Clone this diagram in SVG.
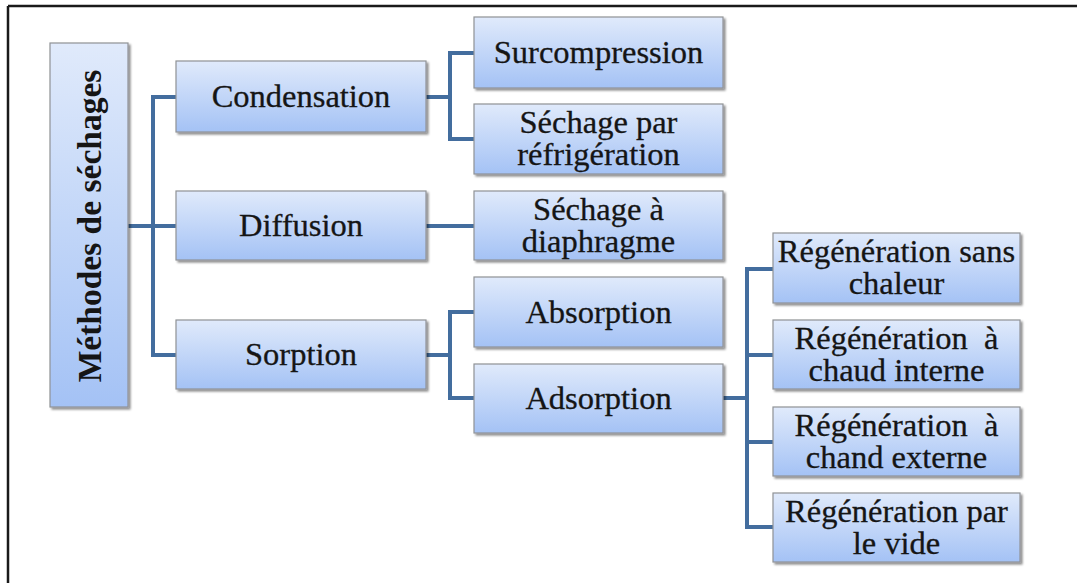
<svg xmlns="http://www.w3.org/2000/svg" width="1077" height="583" viewBox="0 0 1077 583">
  <defs>
    <linearGradient id="g" x1="0" y1="0" x2="0" y2="1">
      <stop offset="0" stop-color="#e0eafb"/>
      <stop offset="1" stop-color="#a4c2f5"/>
    </linearGradient>
    <filter id="sh" x="-10%" y="-10%" width="130%" height="130%">
      <feGaussianBlur in="SourceAlpha" stdDeviation="1.2"/>
      <feOffset dx="1.5" dy="2" result="b"/>
      <feComponentTransfer><feFuncA type="linear" slope="0.45"/></feComponentTransfer>
      <feMerge><feMergeNode/><feMergeNode in="SourceGraphic"/></feMerge>
    </filter>
  </defs>
  <style>
    .box { fill: url(#g); stroke: #8f9296; stroke-width: 1.2; filter: url(#sh); }
    .t { font-family: "Liberation Serif", "Times New Roman", serif; font-size: 32.5px; fill: #151515; stroke: #151515; stroke-width: 0.3; text-anchor: middle; }
    .r { font-weight: bold; font-size: 33.5px; stroke-width: 0; }
    .c { fill: none; stroke: #436d9e; stroke-width: 4; stroke-linejoin: miter; }
  </style>
  <rect width="1077" height="583" fill="#ffffff"/>
  <g id="frame">
    <line x1="8" y1="6" x2="1077" y2="6" stroke="#1a1a1a" stroke-width="2.5"/>
    <line x1="8" y1="6" x2="8" y2="583" stroke="#1a1a1a" stroke-width="2.5"/>
  </g>
  <g id="connectors">
    <path class="c" d="M128 226 H176 M176 97 H153 V355 H176"/>
    <path class="c" d="M426 97 H450 M474 53 H450 V139 H474"/>
    <path class="c" d="M426 226 H474"/>
    <path class="c" d="M426 355 H450 M474 312 H450 V398 H474"/>
    <path class="c" d="M723 398 H747 M773 269 H747 V527 H773 M747 355 H773 M747 442 H773"/>
  </g>
  <g id="root">
    <rect class="box" x="50" y="43" width="78" height="364"/>
    <text class="t r" transform="translate(101,226) rotate(-90)">Méthodes de séchages</text>
  </g>
  <g id="condensation">
    <rect class="box" x="176" y="61" width="250" height="71"/>
    <text class="t" x="301" y="107">Condensation</text>
  </g>
  <g id="diffusion">
    <rect class="box" x="176" y="191" width="250" height="69"/>
    <text class="t" x="301" y="236">Diffusion</text>
  </g>
  <g id="sorption">
    <rect class="box" x="176" y="320" width="250" height="69"/>
    <text class="t" x="301" y="365">Sorption</text>
  </g>
  <g id="surcompression">
    <rect class="box" x="474" y="17" width="249" height="71"/>
    <text class="t" x="598.5" y="63">Surcompression</text>
  </g>
  <g id="refrigeration">
    <rect class="box" x="474" y="104" width="249" height="70"/>
    <text class="t" x="598.5" y="133">Séchage par</text>
    <text class="t" x="598.5" y="165">réfrigération</text>
  </g>
  <g id="diaphragme">
    <rect class="box" x="474" y="191" width="249" height="69"/>
    <text class="t" x="598.5" y="220">Séchage à</text>
    <text class="t" x="598.5" y="252">diaphragme</text>
  </g>
  <g id="absorption">
    <rect class="box" x="474" y="277" width="249" height="70"/>
    <text class="t" x="598.5" y="323">Absorption</text>
  </g>
  <g id="adsorption">
    <rect class="box" x="474" y="364" width="249" height="69"/>
    <text class="t" x="598.5" y="409">Adsorption</text>
  </g>
  <g id="regen1">
    <rect class="box" x="773" y="233" width="247" height="70"/>
    <text class="t" x="896.5" y="262">Régénération sans</text>
    <text class="t" x="896.5" y="294">chaleur</text>
  </g>
  <g id="regen2">
    <rect class="box" x="773" y="320" width="247" height="69"/>
    <text class="t" x="896.5" y="349" xml:space="preserve">Régénération  à</text>
    <text class="t" x="896.5" y="381">chaud interne</text>
  </g>
  <g id="regen3">
    <rect class="box" x="773" y="407" width="247" height="69"/>
    <text class="t" x="896.5" y="436" xml:space="preserve">Régénération  à</text>
    <text class="t" x="896.5" y="468">chand externe</text>
  </g>
  <g id="regen4">
    <rect class="box" x="773" y="493" width="247" height="69"/>
    <text class="t" x="896.5" y="522">Régénération par</text>
    <text class="t" x="896.5" y="554">le vide</text>
  </g>
</svg>
